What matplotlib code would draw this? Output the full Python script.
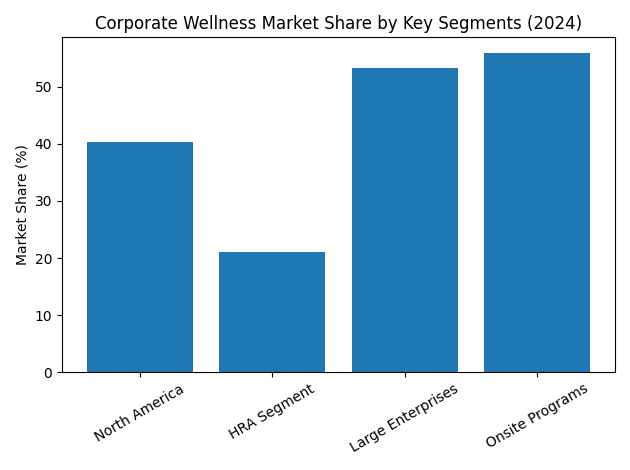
import matplotlib
matplotlib.use('Agg')
import matplotlib.pyplot as plt

segments = ['North America', 'HRA Segment', 'Large Enterprises', 'Onsite Programs']
shares = [40.3, 21.0, 53.3, 55.9]

fig, ax = plt.subplots(figsize=(6.3, 4.7), dpi=100)
ax.bar(segments, shares, color='#1f77b4')
ax.set_title('Corporate Wellness Market Share by Key Segments (2024)')
ax.set_ylabel('Market Share (%)')
plt.xticks(rotation=30)
plt.tight_layout()
plt.savefig('out.png')
